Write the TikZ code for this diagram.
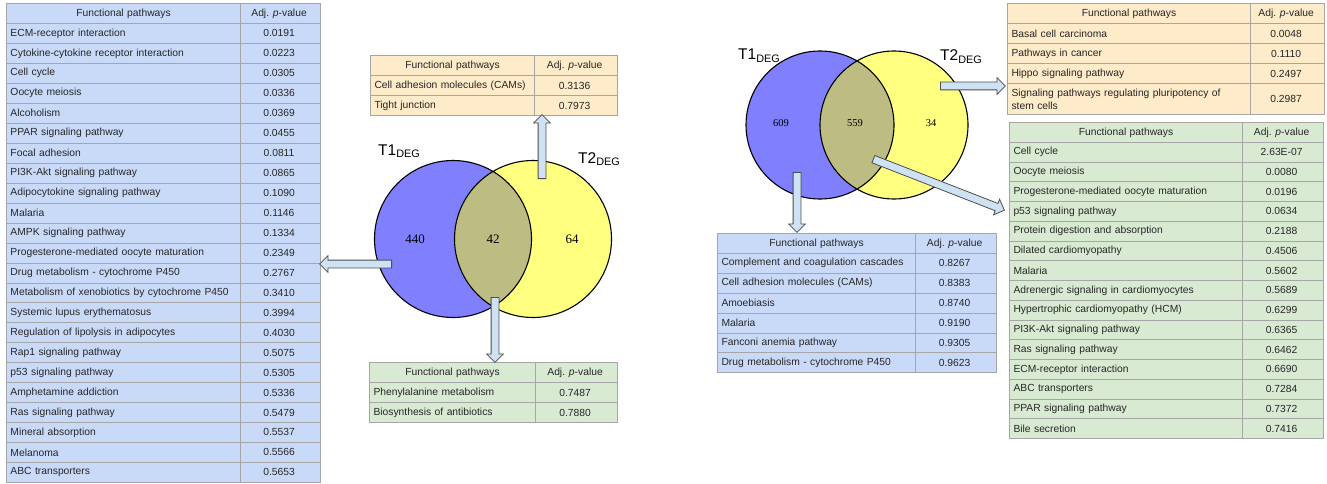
\documentclass[tikz,border=0pt]{standalone}
\usepackage{fontspec}
\setmainfont{Liberation Sans}
\newfontfamily\countfont{Liberation Serif}
\usetikzlibrary{%
  matrix,% tables
  shapes.arrows,% block arrows
  calc,% let in to path
  positioning%
}
\definecolor{tabblue}{HTML}{C9DAF8}
\definecolor{taborange}{HTML}{FDEBC9}
\definecolor{tabgreen}{HTML}{D9EAD3}
\definecolor{tabline}{HTML}{A6A6A6}
\definecolor{vennblue}{HTML}{8080FF}
\definecolor{vennyellow}{HTML}{FFFF80}
\definecolor{vennboth}{HTML}{BDBC82}
\definecolor{arrowfill}{HTML}{CFE2F3}
\definecolor{arrowline}{HTML}{4D4D4D}
\newcommand{\tabfont}{\fontsize{10.3}{13}\selectfont}

\begin{document}
\begin{tikzpicture}
[x=1pt, y=-1pt,
pwtable/.style n args={4}{matrix of nodes, inner sep=0pt, column sep=-0.6pt, row sep=-0.6pt,
  nodes={draw=tabline, line width=0.6pt, fill=#1, text=black!85, anchor=center,
    minimum height=#4pt, inner xsep=4pt, inner ysep=1pt, font=\tabfont},
  column 1/.style={nodes={text width=#2pt, align=left}},
  column 2/.style={nodes={minimum width=#3pt, align=center}}},
vennnum/.style={font=\countfont\fontsize{#1}{#1}\selectfont, inner sep=0pt},
setlabel/.style={font=\fontsize{#1}{#1}\selectfont, anchor=base west, inner sep=0pt},
pointer/.style={single arrow, draw=arrowline, fill=arrowfill, line width=0.8pt,
  inner sep=3.5pt, single arrow head extend=4.5pt, anchor=tail},
blockarrow/.style={to path={let \p1=(\tikztostart), \p2=(\tikztotarget),
  \n1={atan2(\y2-\y1,\x2-\x1)}, \n2={veclen(\x2-\x1,\y2-\y1)} in
  node[pointer, minimum height=\n2, rotate=\n1] at (\p1) {}}}]

\useasboundingbox (0,0) rectangle (1327,484);

% tables
\matrix[pwtable={tabblue}{226}{80}{19.95}, anchor=north west] (table1) at (6,3) {
|[align=center]| Functional pathways & Adj. \textit{p}-value \\
ECM-receptor interaction & 0.0191 \\
Cytokine-cytokine receptor interaction & 0.0223 \\
Cell cycle & 0.0305 \\
Oocyte meiosis & 0.0336 \\
Alcoholism & 0.0369 \\
PPAR signaling pathway & 0.0455 \\
Focal adhesion & 0.0811 \\
PI3K-Akt signaling pathway & 0.0865 \\
Adipocytokine signaling pathway & 0.1090 \\
Malaria & 0.1146 \\
AMPK signaling pathway & 0.1334 \\
Progesterone-mediated oocyte maturation & 0.2349 \\
Drug metabolism - cytochrome P450 & 0.2767 \\
Metabolism of xenobiotics by cytochrome P450 & 0.3410 \\
Systemic lupus erythematosus & 0.3994 \\
Regulation of lipolysis in adipocytes & 0.4030 \\
Rap1 signaling pathway & 0.5075 \\
p53 signaling pathway & 0.5305 \\
Amphetamine addiction & 0.5336 \\
Ras signaling pathway & 0.5479 \\
Mineral absorption & 0.5537 \\
Melanoma & 0.5566 \\
ABC transporters & 0.5653 \\
};

\matrix[pwtable={taborange}{156}{83}{20}, anchor=north west] (table2) at (370,55) {
|[align=center]| Functional pathways & Adj. \textit{p}-value \\
Cell adhesion molecules (CAMs) & 0.3136 \\
Tight junction & 0.7973 \\
};

\matrix[pwtable={tabgreen}{158}{82}{20}, anchor=north west] (table3) at (369,362) {
|[align=center]| Functional pathways & Adj. \textit{p}-value \\
Phenylalanine metabolism & 0.7487 \\
Biosynthesis of antibiotics & 0.7880 \\
};

\matrix[pwtable={tabblue}{190}{81}{19.86}, anchor=north west] (table4) at (717,233) {
|[align=center]| Functional pathways & Adj. \textit{p}-value \\
Complement and coagulation cascades & 0.8267 \\
Cell adhesion molecules (CAMs) & 0.8383 \\
Amoebiasis & 0.8740 \\
Malaria & 0.9190 \\
Fanconi anemia pathway & 0.9305 \\
Drug metabolism - cytochrome P450 & 0.9623 \\
};

\matrix[pwtable={taborange}{235}{74}{20}, anchor=north west] (table5) at (1007,3) {
|[align=center]| Functional pathways & Adj. \textit{p}-value \\
Basal cell carcinoma & 0.0048 \\
Pathways in cancer & 0.1110 \\
Hippo signaling pathway & 0.2497 \\
|[minimum height=31pt]| Signaling pathways regulating pluripotency of\newline stem cells
  & |[minimum height=31pt]| 0.2987 \\
};

\matrix[pwtable={tabgreen}{225}{81}{19.75}, anchor=north west] (table6) at (1009,122) {
|[align=center]| Functional pathways & Adj. \textit{p}-value \\
Cell cycle & 2.63E-07 \\
Oocyte meiosis & 0.0080 \\
Progesterone-mediated oocyte maturation & 0.0196 \\
p53 signaling pathway & 0.0634 \\
Protein digestion and absorption & 0.2188 \\
Dilated cardiomyopathy & 0.4506 \\
Malaria & 0.5602 \\
Adrenergic signaling in cardiomyocytes & 0.5689 \\
Hypertrophic cardiomyopathy (HCM) & 0.6299 \\
PI3K-Akt signaling pathway & 0.6365 \\
Ras signaling pathway & 0.6462 \\
ECM-receptor interaction & 0.6690 \\
ABC transporters & 0.7284 \\
PPAR signaling pathway & 0.7372 \\
Bile secretion & 0.7416 \\
};

% venn T1/T2, first set
\fill[vennblue] (453,239) circle (78.5pt);
\fill[vennyellow] (533,239) circle (78.5pt);
\begin{scope}
  \clip (453,239) circle (78.5pt);
  \fill[vennboth] (533,239) circle (78.5pt);
\end{scope}
\draw[line width=1.1pt] (453,239) circle (78.5pt) (533,239) circle (78.5pt);

\node[vennnum=13] (only1a) at (415,239) {440};
\node[vennnum=13] (both1) at (493,239) {42};
\node[vennnum=13] (only2a) at (572,239) {64};
\node[setlabel=15.5] (t1a) at (378,155) {T1\textsubscript{DEG}};
\node[setlabel=15.5] (t2a) at (578,163) {T2\textsubscript{DEG}};

% venn T1/T2, second set
\fill[vennblue] (820,125) circle (74pt);
\fill[vennyellow] (894,125) circle (74pt);
\begin{scope}
  \clip (820,125) circle (74pt);
  \fill[vennboth] (894,125) circle (74pt);
\end{scope}
\draw[line width=1.1pt] (820,125) circle (74pt) (894,125) circle (74pt);

\node[vennnum=10.5] (only1b) at (781,123) {609};
\node[vennnum=10.5] (both2) at (855,123) {559};
\node[vennnum=10.5] (only2b) at (931,123) {34};
\node[setlabel=15.5] (t1b) at (738,60) {T1\textsubscript{DEG}};
\node[setlabel=15.5] (t2b) at (940,61) {T2\textsubscript{DEG}};

% arrows
\coordinate (up1s) at (542,179);
\coordinate (up1e) at (542,115);
\coordinate (left1s) at (392,264);
\coordinate (left1e) at (320,264);
\coordinate (down1s) at (495,297);
\coordinate (down1e) at (495,362);
\coordinate (right2s) at (940,86);
\coordinate (right2e) at (1005,86);
\coordinate (diag2s) at (873,159);
\coordinate (diag2e) at (1004,210);
\coordinate (down2s) at (797,172);
\coordinate (down2e) at (797,232);

\path[blockarrow] (up1s) to (up1e);
\path[blockarrow] (left1s) to (left1e);
\path[blockarrow] (down1s) to (down1e);
\path[blockarrow] (right2s) to (right2e);
\path[blockarrow] (diag2s) to (diag2e);
\path[blockarrow] (down2s) to (down2e);
\end{tikzpicture}
\end{document}
